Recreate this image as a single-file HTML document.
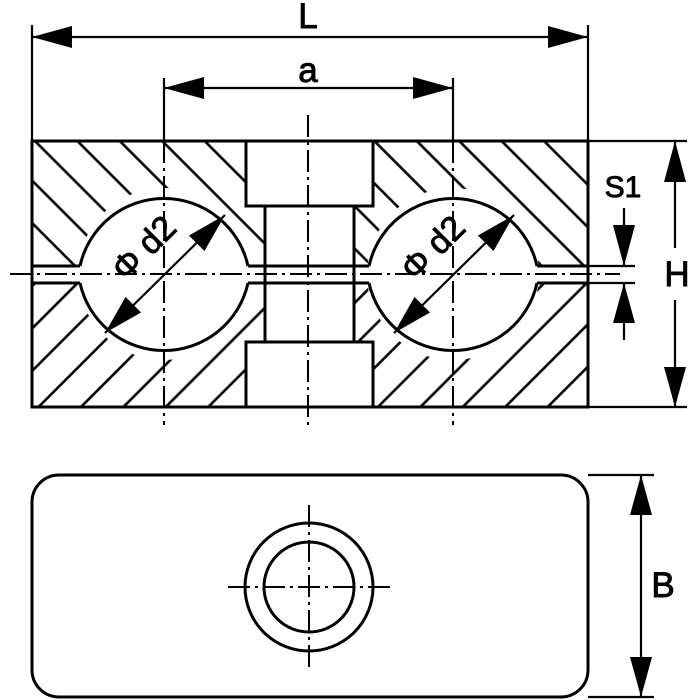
<!DOCTYPE html>
<html><head><meta charset="utf-8"><style>html,body{margin:0;padding:0;background:#fff}svg{display:block}</style></head><body>
<svg width="700" height="700" viewBox="0 0 700 700" xmlns="http://www.w3.org/2000/svg" font-family="Liberation Sans, Arial, sans-serif">
<defs>
<pattern id="hu" patternUnits="userSpaceOnUse" width="30" height="30" patternTransform="rotate(-45)">
<line x1="15" y1="-5" x2="15" y2="35" stroke="#000" stroke-width="2.6"/>
</pattern>
<pattern id="hl" patternUnits="userSpaceOnUse" width="30" height="30" patternTransform="rotate(45)">
<line x1="15" y1="-5" x2="15" y2="35" stroke="#000" stroke-width="2.6"/>
</pattern>
</defs>
<rect x="32" y="141" width="556" height="125" fill="url(#hu)"/>
<rect x="32" y="283" width="556" height="124" fill="url(#hl)"/>
<g fill="#fff" stroke="none">
<circle cx="164" cy="274" r="86"/>
<circle cx="453" cy="274" r="86"/>
<rect x="246" y="141" width="127" height="65"/>
<rect x="246" y="342" width="127" height="65"/>
<rect x="265" y="141" width="89" height="266"/>
<rect x="32" y="266" width="556" height="17"/>
</g>
<g fill="none" stroke="#000" stroke-width="3">
<rect x="32" y="141" width="556" height="266"/>
<path d="M246 141 V206 H373 V141 M246 407 V342 H373 V407"/>
<path d="M265 206 V342 M354 206 V342"/>
<path d="M32 266 H80 M32 283 H80 M248 266 H369 M248 283 H369 M537 266 H588 M537 283 H588"/>
<path d="M80 266 A86 86 0 0 1 248 266"/>
<path d="M80 283 A86 86 0 0 0 248 283"/>
<path d="M369 266 A86 86 0 0 1 537 266"/>
<path d="M369 283 A86 86 0 0 0 537 283"/>
</g>
<g stroke="#000" stroke-width="2" fill="none" stroke-dasharray="22 5 3 5">
<line x1="10" y1="274" x2="620" y2="274"/>
<line x1="308" y1="115" x2="308" y2="428"/>
<line x1="164" y1="141" x2="164" y2="425"/>
<line x1="453" y1="141" x2="453" y2="425"/>
</g>
<g stroke="#000" stroke-width="2.2" fill="none">
<line x1="32" y1="25" x2="32" y2="141"/>
<line x1="588" y1="25" x2="588" y2="141"/>
<line x1="32" y1="37" x2="588" y2="37"/>
<line x1="164" y1="78" x2="164" y2="141"/>
<line x1="453" y1="78" x2="453" y2="141"/>
<line x1="164" y1="88" x2="453" y2="88"/>
<line x1="588" y1="141" x2="687" y2="141"/>
<line x1="588" y1="407" x2="687" y2="407"/>
<line x1="675" y1="141" x2="675" y2="248"/>
<line x1="675" y1="300" x2="675" y2="407"/>
<line x1="588" y1="266" x2="635" y2="266"/>
<line x1="588" y1="283" x2="635" y2="283"/>
<line x1="624" y1="208" x2="624" y2="266"/>
<line x1="624" y1="283" x2="624" y2="340"/>
<line x1="105" y1="333" x2="225" y2="215"/>
<line x1="394" y1="333" x2="514" y2="215"/>
</g>
<g fill="#000">
<polygon points="32,37 72,26 72,48"/>
<polygon points="588,37 548,26 548,48"/>
<polygon points="164,88 204,77 204,99"/>
<polygon points="453,88 413,77 413,99"/>
<polygon points="675,141 664,182 686,182"/>
<polygon points="675,407 664,367 686,367"/>
<polygon points="624,266 613,225 635,225"/>
<polygon points="624,283 613,323 635,323"/>
<g transform="translate(225,215) rotate(135)"><polygon points="0,0 40,-11 40,11"/></g>
<g transform="translate(105,333) rotate(-45)"><polygon points="0,0 40,-11 40,11"/></g>
<g transform="translate(514,215) rotate(135)"><polygon points="0,0 40,-11 40,11"/></g>
<g transform="translate(394,333) rotate(-45)"><polygon points="0,0 40,-11 40,11"/></g>
</g>
<g fill="#000" stroke="#000" stroke-width="0.9" font-size="35">
<text x="308" y="28" text-anchor="middle">L</text>
<text x="308" y="82" text-anchor="middle">a</text>
<text x="623" y="197" text-anchor="middle" font-size="30">S1</text>
<text x="677" y="286" text-anchor="middle">H</text>
<text x="663" y="597" text-anchor="middle">B</text>
<text transform="translate(152,256) rotate(-45)" text-anchor="middle" font-size="34">Φ d2</text>
<text transform="translate(441,256) rotate(-45)" text-anchor="middle" font-size="34">Φ d2</text>
</g>
<g fill="none" stroke="#000" stroke-width="3">
<rect x="32" y="475" width="556" height="222" rx="27"/>
<circle cx="309" cy="587" r="64"/>
<circle cx="309" cy="587" r="45"/>
</g>
<g stroke="#000" stroke-width="2.2" fill="none">
<line x1="588" y1="475" x2="654" y2="475"/>
<line x1="588" y1="697" x2="654" y2="697"/>
<line x1="641" y1="475" x2="641" y2="697"/>
</g>
<g stroke="#000" stroke-width="2" fill="none" stroke-dasharray="22 5 3 5">
<line x1="228" y1="587" x2="390" y2="587"/>
<line x1="309" y1="505" x2="309" y2="668"/>
</g>
<g fill="#000">
<polygon points="641,475 630,515 652,515"/>
<polygon points="641,697 630,657 652,657"/>
</g>
</svg>
</body></html>
